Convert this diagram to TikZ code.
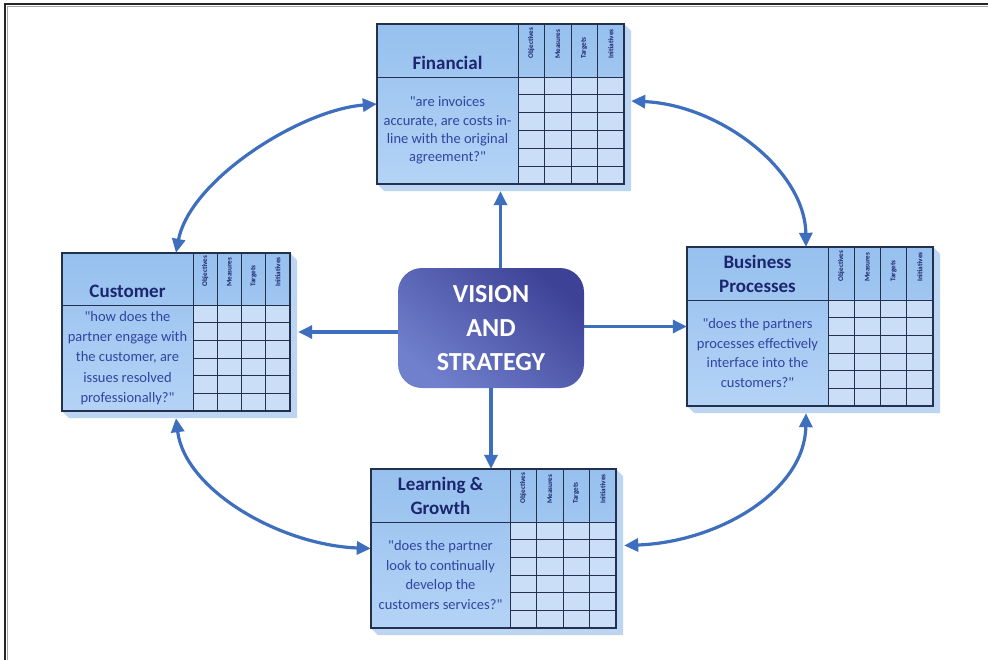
\documentclass[tikz,border=0pt]{standalone}
\usepackage{fontspec}
\setmainfont{Carlito}[Ligatures=TeXOff]
\usetikzlibrary{arrows.meta,calc,fit}

\definecolor{facetop}{RGB}{150,192,238}
\definecolor{facebot}{RGB}{180,211,246}
\definecolor{cellfill}{RGB}{202,223,247}
\definecolor{sidefill}{RGB}{188,213,243}
\definecolor{edgecol}{RGB}{35,48,78}
\definecolor{titlecol}{RGB}{28,38,110}
\definecolor{bodycol}{RGB}{48,68,160}
\definecolor{arrowcol}{RGB}{62,110,190}
\definecolor{visdark}{RGB}{62,66,150}
\definecolor{vislight}{RGB}{112,128,205}

\tikzset{
  x=1pt, y=-1pt,
  outline/.style={draw=edgecol, line width=1.6pt},
  gridline/.style={draw=edgecol, line width=0.9pt},
  titletext/.style={text=titlecol, font=\bfseries\fontsize{19}{24}\selectfont, align=center, inner sep=0pt, anchor=south},
  bodytext/.style={text=bodycol, font=\fontsize{14.5}{\bodyskip}\selectfont, align=center, inner sep=0pt},
  collabel/.style={text=titlecol, font=\bfseries\fontsize{7.2}{7.2}\selectfont, rotate=90, anchor=west, inner sep=0pt},
  visbox/.style={rounded corners=24pt, minimum width=186pt, minimum height=120pt,
    top color=visdark, bottom color=vislight, shading angle=-40,
    text=white, font=\bfseries\fontsize{26}{34}\selectfont, align=center},
  onearrow/.style={draw=arrowcol, line width=3.2pt, -{Triangle[length=14pt,width=13pt]}},
  twoarrow/.style={draw=arrowcol, line width=3.2pt, {Triangle[length=14pt,width=13pt]}-{Triangle[length=14pt,width=13pt]}},
}

\newcommand\bodyskip{19.8}
% #1 name, (#2,#3) top left and (#4,#5) bottom right of the front face,
% #6 right edge of the question column, #7 bottom of the heading row,
% #8 heading, #9 question
\newcommand\scorebox[9]{%
  \fill[sidefill] (#4,#3) -- (#4+7,#3+7) -- (#4+7,#5+7) -- (#2+7,#5+7) -- (#2,#5) -- cycle;
  \node[fit={(#2,#3) (#4,#5)}, inner sep=0pt, top color=facetop, bottom color=facebot] (#1) {};
  \fill[cellfill] (#6,#7) rectangle (#4,#5);
  \foreach \j in {1,...,5}
    \draw[gridline] (#6,{#7+\j*(#5-#7)/6}) -- (#4,{#7+\j*(#5-#7)/6});
  \foreach \i in {1,2,3}
    \draw[gridline] ({#6+\i*(#4-#6)/4},#3) -- ({#6+\i*(#4-#6)/4},#5);
  \draw[gridline] (#6,#3) -- (#6,#5);
  \draw[gridline] (#2,#7) -- (#4,#7);
  \draw[outline] (#1.north west) rectangle (#1.south east);
  \foreach \lab [count=\i] in {Objectives,Measures,Targets,Initiatives}
    \node[collabel] (#1-c\i) at ({#6+(\i-0.5)*(#4-#6)/4},#7-18) {\lab};
  \node[titletext] (#1-t) at ({(#2+#6)/2},#7-7) {#8};
  \node[bodytext] (#1-b) at ({(#2+#6)/2},{(#7+#5)/2}) {#9};
}

\begin{document}
\begin{tikzpicture}
  \useasboundingbox (0,0) rectangle (988,659);
  \fill[white] (0,0) rectangle (988,659);

  % page frame
  \draw[black!35, line width=1.2pt] (7.5,680) -- (7.5,6.5) -- (1000,6.5);
  \draw[black!85, line width=2pt] (5,680) -- (5,4) -- (1000,4);

  % the four perspectives
  \renewcommand\bodyskip{18.3}
  \scorebox{fin}{377}{24}{624}{184}{518}{77}{Financial}
    {"are invoices\\accurate, are costs in-\\line with the original\\agreement?"}
  \renewcommand\bodyskip{20.2}
  \scorebox{cus}{62}{253}{290}{411}{193}{305}{Customer}
    {"how does the\\partner engage with\\the customer, are\\issues resolved\\professionally?"}
  \renewcommand\bodyskip{19.8}
  \scorebox{bus}{687}{247}{933}{406}{828}{300}{Business\\Processes}
    {"does the partners\\processes effectively\\interface into the\\customers?"}
  \scorebox{lrn}{371}{469}{616}{628}{510}{522}{Learning \&\\Growth}
    {"does the partner\\look to continually\\develop the\\customers services?"}

  % centre
  \node[visbox] (vis) at (491,328) {VISION\\AND\\STRATEGY};

  % links from the centre
  \draw[onearrow] (vis.north -| fin.south) -- ($(fin.south)+(0,7)$);
  \draw[onearrow] (vis.west |- cus.east) -- ($(cus.east)+(8,0)$);
  \draw[onearrow] (vis.east |- bus.west) -- (bus.west);
  \draw[onearrow] (vis.south) -- (vis.south |- lrn.north);

  % links around the ring
  \draw[twoarrow] (cus.north) .. controls (190,180) and (300,110) .. (fin.west);
  \draw[twoarrow] ($(fin.east)+(7,-3)$) .. controls (720,105) and (805,170) .. ($(bus.north)+(-4,0)$);
  \draw[twoarrow] ($(bus.south)+(-4,7)$) .. controls (805,490) and (720,542) .. ($(lrn.east)+(8,-3)$);
  \draw[twoarrow] (lrn.west) .. controls (280,545) and (185,490) .. ($(cus.south)+(0,7)$);
\end{tikzpicture}
\end{document}
